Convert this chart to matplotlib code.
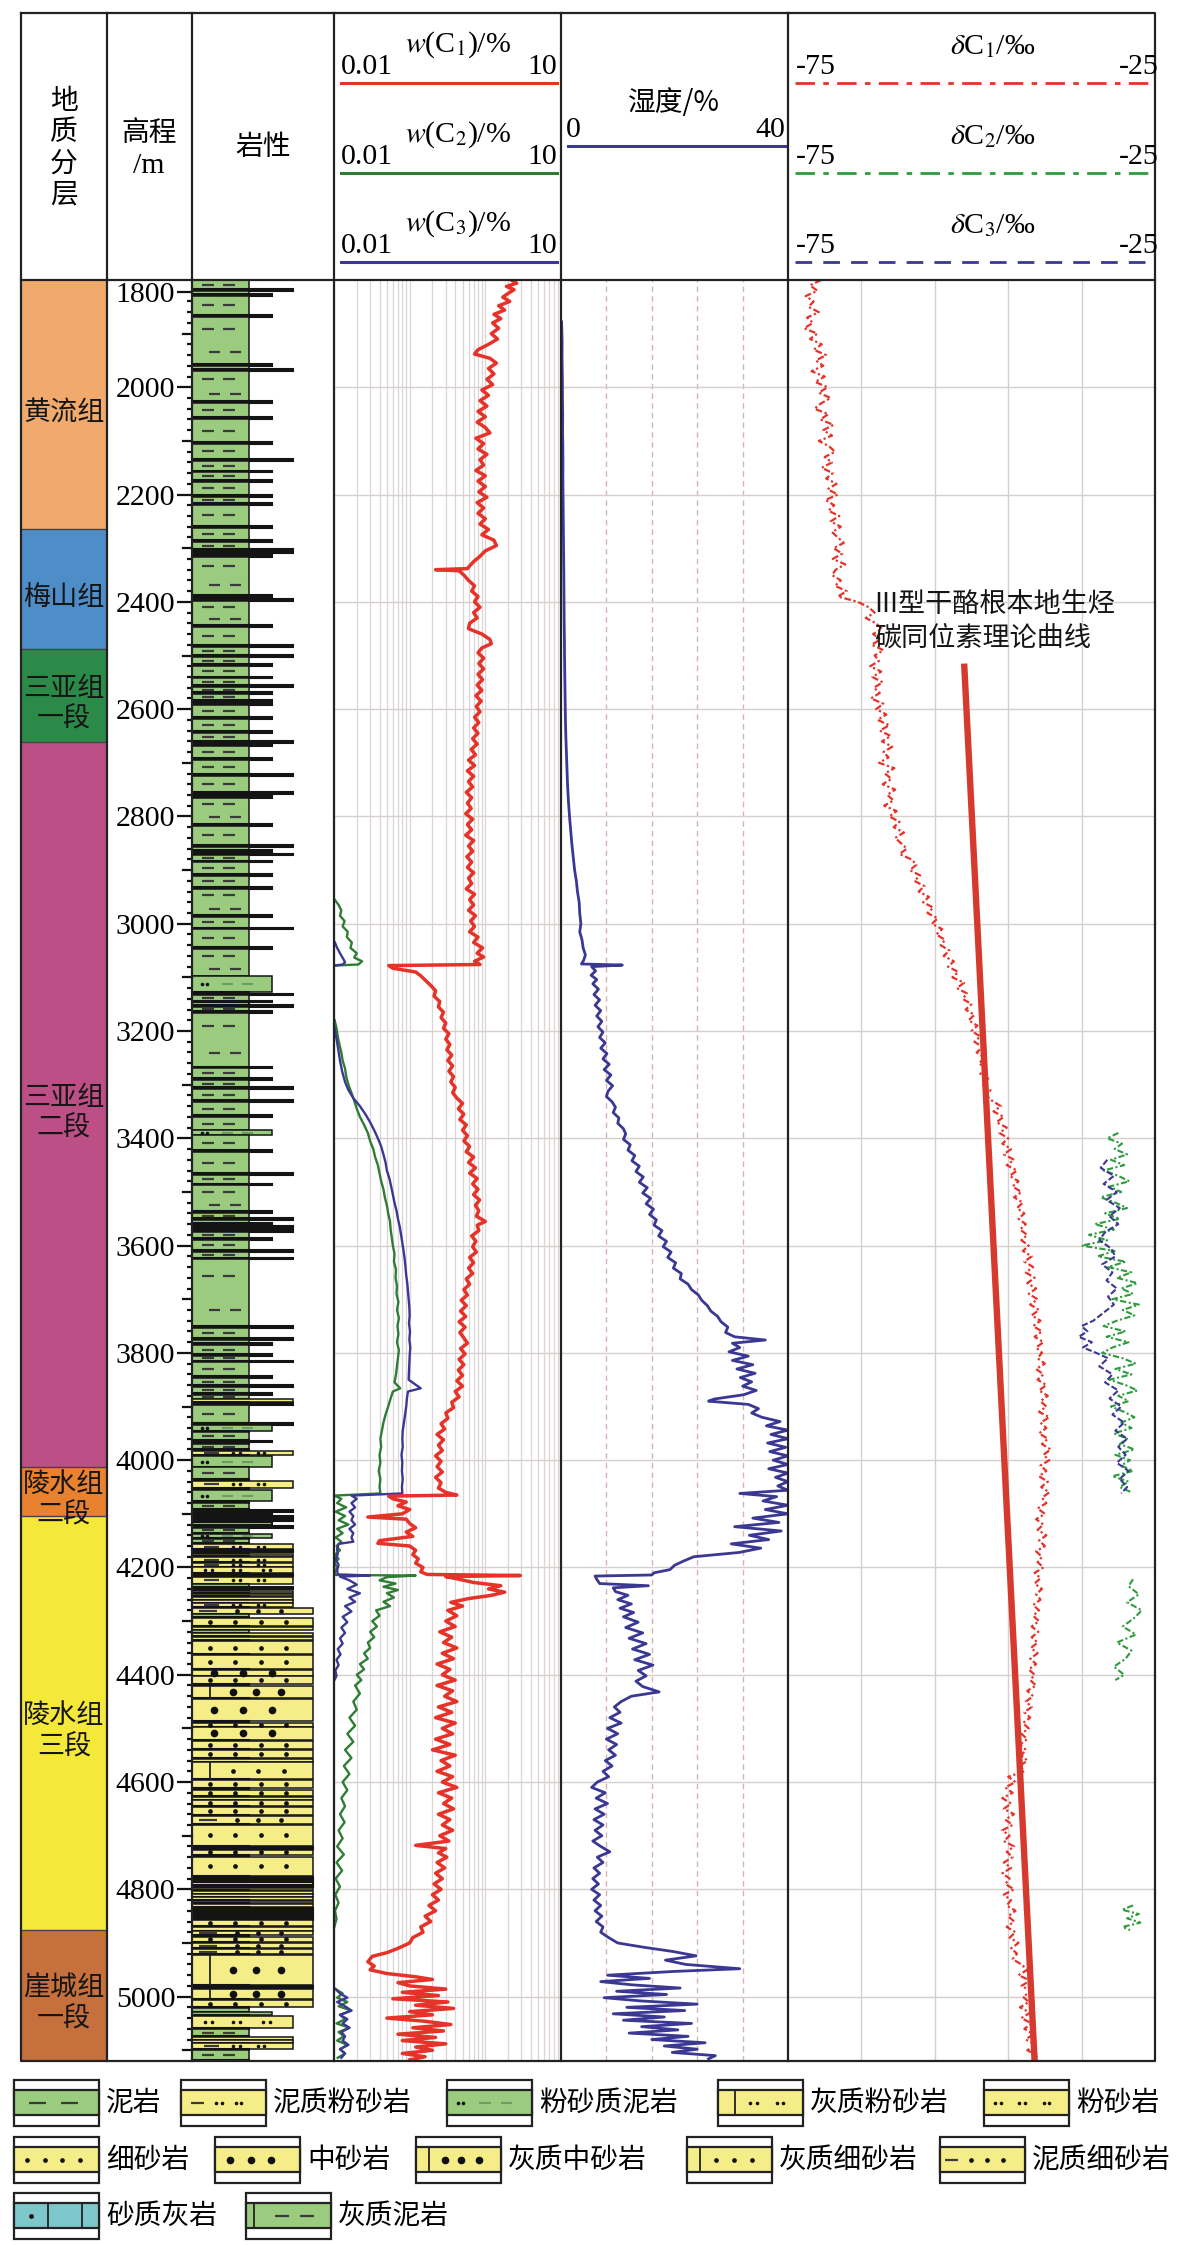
import matplotlib
matplotlib.use("Agg")
import matplotlib.pyplot as plt
import numpy as np
from matplotlib.patches import Rectangle

plt.rcParams['font.family'] = ['Liberation Serif', 'Noto Sans CJK SC', 'DejaVu Sans']
plt.rcParams['mathtext.fontset'] = 'stix'
CJK = ['Noto Sans CJK SC', 'DejaVu Sans']
SERIF = ['Liberation Serif', 'DejaVu Serif']

# ---------------- data ----------------
TOP, BOT = 1800, 5120

strata_names = ['黄流组', '梅山组', '三亚组\n一段', '三亚组\n二段', '陵水组\n二段', '陵水组\n三段', '崖城组\n一段']
strata_tops = [1800, 2265, 2487, 2661, 4012, 4104, 4875]
strata_bases = [2265, 2487, 2661, 4012, 4104, 4875, 5120]
strata_colors = ['#F0AA6C', '#4E8DC8', '#2C8A48', '#BB4F86', '#E8822E', '#F4E83A', '#C6703D']

depth_labels = list(range(1800, 5001, 200))

# thin beds in the mudstone section: (depth, lithology)
thin_beds = [(1819, 'asilt'), (1828, 'smud'), (1867, 'smud'), (1958, 'smud'), (1968, 'asilt'), (2028, 'smud'),
             (2058, 'smud'), (2104, 'smud'), (2135, 'asilt'), (2157, 'smud'), (2174, 'smud'), (2202, 'smud'),
             (2218, 'smud'), (2260, 'smud'), (2287, 'smud'), (2303, 'asilt'), (2307, 'asilt'), (2314, 'smud'),
             (2389, 'smud'), (2396, 'asilt'), (2445, 'smud'), (2482, 'asilt'), (2501, 'asilt'), (2518, 'smud'),
             (2541, 'smud'), (2557, 'asilt'), (2570, 'smud'), (2584, 'smud'), (2591, 'smud'), (2616, 'smud'),
             (2643, 'smud'), (2661, 'asilt'), (2667, 'smud'), (2693, 'smud'), (2723, 'asilt'), (2757, 'asilt'),
             (2763, 'smud'), (2816, 'smud'), (2855, 'asilt'), (2864, 'smud'), (2871, 'asilt'), (2884, 'smud'),
             (2909, 'smud'), (2933, 'smud'), (2986, 'smud'), (3009, 'asilt'), (3045, 'smud'), (3132, 'asilt'),
             (3145, 'smud'), (3153, 'asilt'), (3164, 'smud'), (3268, 'smud'), (3290, 'smud'), (3306, 'asilt'),
             (3331, 'asilt'), (3359, 'smud'), (3424, 'smud'), (3467, 'asilt'), (3486, 'smud'), (3538, 'smud'),
             (3551, 'asilt'), (3560, 'smud'), (3566, 'asilt'), (3573, 'asilt'), (3587, 'smud'), (3610, 'asilt'),
             (3624, 'asilt'), (3752, 'asilt'), (3774, 'asilt'), (3784, 'smud'), (3804, 'smud'), (3816, 'asilt'),
             (3845, 'smud'), (3862, 'asilt'), (3876, 'smud')]

# beds: (top, base, lithology)
beds = [(3097, 3127, 'smud'), (3385, 3394, 'smud'), (3886, 3892, 'asilt'), (3893, 3897, 'asilt'),
        (3898, 3930, 'mud'), (3931, 3934, 'asilt'), (3935, 3946, 'smud'), (3947, 3962, 'mud'),
        (3964, 3967, 'smud'), (3969, 3980, 'mud'), (3982, 3991, 'asilt'), (3993, 4012, 'smud'),
        (4013, 4035, 'mud'), (4038, 4052, 'asilt'), (4056, 4077, 'smud'), (4079, 4091, 'mud'),
        (4092, 4096, 'asilt'), (4098, 4102, 'smud'), (4104, 4108, 'asilt'), (4110, 4114, 'asilt'),
        (4116, 4120, 'smud'), (4122, 4126, 'asilt'), (4127, 4135, 'mud'), (4137, 4145, 'smud'),
        (4146, 4154, 'mud'), (4156, 4166, 'asilt'), (4168, 4172, 'asilt'), (4174, 4179, 'asilt'),
        (4181, 4190, 'asilt'), (4191, 4199, 'asilt'), (4200, 4211, 'silt'), (4213, 4216, 'asilt'),
        (4218, 4230, 'asilt'), (4231, 4236, 'mud'), (4237, 4241, 'asilt'), (4243, 4248, 'asilt'),
        (4249, 4254, 'asilt'), (4255, 4260, 'asilt'), (4261, 4266, 'asilt'), (4267, 4274, 'asilt'),
        (4276, 4286, 'afine'), (4287, 4292, 'mud'), (4294, 4310, 'fine'), (4311, 4316, 'fine'),
        (4317, 4322, 'mud'), (4323, 4328, 'fine'), (4330, 4336, 'fine'), (4338, 4361, 'fine'),
        (4363, 4390, 'fine'), (4391, 4402, 'med'), (4403, 4418, 'fine'), (4421, 4444, 'cmed'),
        (4445, 4487, 'med'), (4489, 4497, 'fine'), (4498, 4521, 'med'), (4523, 4538, 'fine'),
        (4540, 4556, 'fine'), (4557, 4562, 'afine'), (4563, 4595, 'cfine'), (4597, 4612, 'fine'),
        (4614, 4626, 'fine'), (4628, 4633, 'fine'), (4634, 4645, 'fine'), (4647, 4661, 'fine'),
        (4663, 4678, 'afine'), (4680, 4719, 'fine'), (4721, 4725, 'afine'), (4726, 4736, 'fine'),
        (4739, 4775, 'fine'), (4777, 4781, 'fine'), (4782, 4786, 'afine'), (4787, 4791, 'fine'),
        (4792, 4796, 'fine'), (4797, 4802, 'afine'), (4803, 4808, 'fine'), (4809, 4814, 'fine'),
        (4815, 4820, 'afine'), (4821, 4826, 'fine'), (4827, 4832, 'fine'), (4834, 4838, 'afine'),
        (4839, 4843, 'fine'), (4844, 4848, 'afine'), (4849, 4853, 'fine'), (4854, 4857, 'fine'),
        (4858, 4869, 'fine'), (4871, 4877, 'fine'), (4878, 4886, 'afine'), (4888, 4898, 'fine'),
        (4900, 4910, 'afine'), (4912, 4920, 'afine'), (4922, 4978, 'cmed'), (4980, 4983, 'fine'),
        (4985, 5004, 'cmed'), (5006, 5020, 'fine'), (5022, 5028, 'mud'), (5029, 5035, 'smud'),
        (5037, 5058, 'silt'), (5060, 5074, 'mud'), (5075, 5080, 'asilt'), (5081, 5086, 'asilt'),
        (5087, 5097, 'asilt'), (5099, 5118, 'mud')]

# w(C1) %, (depth m, value)
C1 = [(1800, 2.2), (1806, 2.6), (1812, 1.9), (1818, 2.4), (1825, 2.0), (1832, 1.7), (1840, 2.1), (1848, 1.5),
      (1856, 1.8), (1864, 1.3), (1872, 1.6), (1880, 1.25), (1890, 1.5), (1900, 1.2), (1910, 1.45), (1920, 1.1),
      (1930, 0.8), (1938, 0.72), (1946, 1.15), (1955, 1.4), (1965, 1.1), (1975, 1.3), (1985, 1.05), (1995, 1.25),
      (2005, 0.9), (2015, 1.1), (2025, 0.85), (2035, 1.05), (2045, 0.8), (2055, 1.0), (2065, 0.78), (2075, 1.0),
      (2085, 1.15), (2095, 0.75), (2105, 0.95), (2115, 0.8), (2125, 1.05), (2135, 0.85), (2145, 0.95), (2155, 0.75),
      (2165, 1.0), (2175, 0.8), (2185, 1.0), (2195, 0.82), (2205, 1.05), (2215, 0.78), (2225, 0.95), (2235, 0.8),
      (2245, 1.0), (2255, 0.85), (2265, 1.1), (2275, 0.9), (2285, 1.3), (2295, 1.4), (2305, 1.0), (2315, 0.85),
      (2325, 0.7), (2333, 0.62), (2338, 0.58), (2340, 0.22), (2342, 0.45), (2350, 0.52), (2360, 0.6), (2370, 0.72),
      (2380, 0.66), (2390, 0.8), (2400, 0.72), (2410, 0.85), (2420, 0.7), (2430, 0.78), (2440, 0.62), (2450, 0.6),
      (2460, 0.9), (2470, 1.15), (2478, 1.2), (2486, 0.9), (2495, 0.8), (2505, 0.95), (2515, 0.82), (2525, 0.95),
      (2535, 0.8), (2545, 0.92), (2555, 0.78), (2565, 0.9), (2575, 0.75), (2585, 0.88), (2595, 0.76), (2605, 0.85),
      (2615, 0.72), (2625, 0.82), (2635, 0.7), (2645, 0.8), (2655, 0.68), (2665, 0.78), (2675, 0.65), (2685, 0.74),
      (2695, 0.6), (2705, 0.72), (2715, 0.58), (2725, 0.7), (2735, 0.6), (2745, 0.68), (2755, 0.56), (2765, 0.66),
      (2775, 0.58), (2785, 0.65), (2795, 0.55), (2805, 0.68), (2815, 0.58), (2825, 0.66), (2835, 0.55), (2845, 0.7),
      (2855, 0.6), (2865, 0.68), (2875, 0.57), (2885, 0.66), (2895, 0.58), (2905, 0.7), (2915, 0.6), (2925, 0.66),
      (2935, 0.56), (2945, 0.72), (2955, 0.62), (2965, 0.7), (2975, 0.6), (2985, 0.74), (2995, 0.64), (3005, 0.72),
      (3015, 0.62), (3025, 0.8), (3035, 0.7), (3045, 0.92), (3055, 0.78), (3062, 0.95), (3070, 0.72), (3076, 0.85),
      (3078, 0.053), (3083, 0.06), (3090, 0.12), (3097, 0.14), (3105, 0.16), (3115, 0.19), (3125, 0.22), (3135, 0.21),
      (3145, 0.25), (3155, 0.24), (3165, 0.28), (3175, 0.26), (3185, 0.3), (3195, 0.28), (3205, 0.33), (3215, 0.3),
      (3225, 0.34), (3235, 0.31), (3245, 0.36), (3255, 0.32), (3265, 0.37), (3275, 0.33), (3285, 0.38), (3295, 0.35),
      (3305, 0.4), (3315, 0.37), (3325, 0.42), (3335, 0.5), (3345, 0.44), (3355, 0.52), (3365, 0.46), (3375, 0.56),
      (3385, 0.5), (3395, 0.58), (3405, 0.52), (3415, 0.62), (3425, 0.56), (3435, 0.7), (3445, 0.6), (3455, 0.74),
      (3465, 0.62), (3475, 0.78), (3485, 0.68), (3495, 0.8), (3505, 0.7), (3515, 0.84), (3525, 0.74), (3535, 0.82),
      (3545, 0.76), (3555, 1.0), (3562, 0.78), (3572, 0.82), (3582, 0.66), (3592, 0.75), (3602, 0.68), (3612, 0.76),
      (3622, 0.62), (3632, 0.7), (3642, 0.6), (3652, 0.68), (3662, 0.56), (3672, 0.62), (3682, 0.52), (3692, 0.58),
      (3702, 0.48), (3712, 0.56), (3722, 0.47), (3732, 0.55), (3742, 0.45), (3752, 0.54), (3762, 0.46), (3772, 0.52),
      (3782, 0.58), (3792, 0.47), (3802, 0.54), (3812, 0.45), (3822, 0.52), (3832, 0.44), (3842, 0.5), (3852, 0.42),
      (3862, 0.5), (3872, 0.4), (3882, 0.45), (3892, 0.36), (3902, 0.38), (3912, 0.3), (3922, 0.32), (3932, 0.26),
      (3942, 0.29), (3952, 0.23), (3962, 0.28), (3972, 0.24), (3982, 0.27), (3992, 0.22), (4002, 0.26), (4012, 0.23),
      (4022, 0.27), (4032, 0.22), (4042, 0.26), (4052, 0.24), (4060, 0.3), (4065, 0.42), (4067, 0.053), (4072, 0.06),
      (4078, 0.09), (4085, 0.07), (4092, 0.1), (4100, 0.08), (4106, 0.028), (4110, 0.09), (4118, 0.1), (4126, 0.12),
      (4134, 0.09), (4142, 0.11), (4150, 0.04), (4155, 0.038), (4160, 0.1), (4168, 0.12), (4176, 0.11), (4184, 0.13),
      (4192, 0.12), (4200, 0.15), (4208, 0.14), (4213, 0.17), (4215, 2.9), (4217, 0.3), (4222, 0.45), (4228, 0.7),
      (4234, 1.6), (4240, 1.1), (4246, 1.8), (4252, 1.2), (4258, 0.6), (4265, 0.35), (4272, 0.5), (4280, 0.32),
      (4290, 0.42), (4300, 0.3), (4310, 0.4), (4320, 0.25), (4330, 0.36), (4340, 0.28), (4350, 0.42), (4360, 0.27),
      (4370, 0.38), (4380, 0.23), (4390, 0.34), (4400, 0.27), (4410, 0.4), (4420, 0.23), (4430, 0.37), (4440, 0.29),
      (4450, 0.42), (4460, 0.24), (4470, 0.36), (4480, 0.22), (4490, 0.4), (4500, 0.27), (4510, 0.37), (4520, 0.22),
      (4530, 0.34), (4540, 0.2), (4550, 0.4), (4560, 0.26), (4570, 0.34), (4580, 0.23), (4590, 0.37), (4600, 0.27),
      (4610, 0.42), (4620, 0.24), (4630, 0.36), (4640, 0.28), (4650, 0.38), (4660, 0.24), (4670, 0.34), (4680, 0.27),
      (4690, 0.37), (4700, 0.25), (4710, 0.33), (4718, 0.12), (4724, 0.3), (4732, 0.24), (4740, 0.31), (4750, 0.23),
      (4760, 0.29), (4770, 0.22), (4780, 0.27), (4790, 0.21), (4800, 0.26), (4810, 0.2), (4820, 0.24), (4830, 0.18),
      (4840, 0.22), (4850, 0.16), (4860, 0.19), (4870, 0.14), (4880, 0.15), (4890, 0.11), (4900, 0.1), (4910, 0.07),
      (4918, 0.05), (4925, 0.032), (4935, 0.028), (4943, 0.034), (4950, 0.03), (4957, 0.05), (4963, 0.12), (4968, 0.2),
      (4974, 0.07), (4980, 0.1), (4986, 0.3), (4992, 0.08), (4998, 0.24), (5004, 0.06), (5010, 0.32), (5016, 0.12),
      (5022, 0.38), (5028, 0.1), (5034, 0.2), (5040, 0.05), (5046, 0.16), (5052, 0.35), (5058, 0.11), (5064, 0.28),
      (5070, 0.07), (5076, 0.22), (5082, 0.08), (5088, 0.3), (5094, 0.12), (5100, 0.2), (5106, 0.08), (5112, 0.16),
      (5118, 0.1)]

nan = np.nan
# w(C2) %
C2 = [(2955, 0.0102), (2965, 0.0115), (2975, 0.0125), (2985, 0.012), (2995, 0.0138), (3005, 0.013), (3015, 0.0152),
      (3025, 0.0148), (3035, 0.0172), (3045, 0.0165), (3055, 0.02), (3063, 0.0185), (3070, 0.0235), (3076, 0.021),
      (3078, 0.0101), (nan, nan),
      (3180, 0.0102), (3195, 0.0108), (3210, 0.0112), (3225, 0.0118), (3240, 0.0125), (3255, 0.013), (3270, 0.014),
      (3285, 0.0145), (3300, 0.0155), (3315, 0.017), (3330, 0.0185), (3345, 0.02), (3360, 0.022), (3375, 0.025),
      (3390, 0.028), (3405, 0.03), (3420, 0.033), (3435, 0.035), (3450, 0.038), (3465, 0.04), (3480, 0.042),
      (3495, 0.045), (3510, 0.047), (3525, 0.05), (3540, 0.052), (3555, 0.055), (3570, 0.056), (3585, 0.058),
      (3600, 0.06), (3615, 0.063), (3630, 0.062), (3645, 0.066), (3660, 0.065), (3675, 0.068), (3690, 0.067),
      (3705, 0.071), (3720, 0.068), (3735, 0.072), (3750, 0.069), (3765, 0.071), (3780, 0.068), (3795, 0.072),
      (3810, 0.07), (3825, 0.068), (3840, 0.066), (3855, 0.063), (3866, 0.075), (3872, 0.06), (3885, 0.056),
      (3900, 0.052), (3915, 0.048), (3930, 0.045), (3945, 0.043), (3960, 0.041), (3975, 0.042), (3990, 0.04),
      (4005, 0.041), (4020, 0.039), (4035, 0.041), (4050, 0.04), (4062, 0.041), (4066, 0.0101), (4072, 0.0125),
      (4080, 0.011), (4088, 0.0145), (4096, 0.0105), (4104, 0.014), (4112, 0.0115), (4120, 0.0155), (4128, 0.011),
      (4136, 0.013), (4144, 0.0105), (4152, 0.0125), (4160, 0.0108), (4168, 0.012), (4176, 0.0103), (4184, 0.0115),
      (4192, 0.0102), (4200, 0.011), (4208, 0.0103), (4214, 0.0105), (4215, 0.12), (4218, 0.05), (4224, 0.04),
      (4230, 0.065), (4236, 0.045), (4242, 0.07), (4248, 0.05), (4256, 0.062), (4264, 0.045), (4272, 0.055),
      (4280, 0.036), (4290, 0.04), (4300, 0.032), (4310, 0.037), (4320, 0.03), (4330, 0.034), (4340, 0.028),
      (4350, 0.03), (4360, 0.025), (4370, 0.028), (4380, 0.022), (4390, 0.025), (4400, 0.02), (4410, 0.023),
      (4420, 0.019), (4435, 0.022), (4450, 0.018), (4465, 0.02), (4480, 0.016), (4495, 0.019), (4510, 0.015),
      (4525, 0.018), (4540, 0.014), (4555, 0.017), (4570, 0.0135), (4585, 0.016), (4600, 0.013), (4615, 0.015),
      (4630, 0.0125), (4645, 0.014), (4660, 0.012), (4675, 0.0138), (4690, 0.0115), (4705, 0.013), (4720, 0.011),
      (4735, 0.0135), (4750, 0.0108), (4765, 0.0128), (4780, 0.0105), (4795, 0.012), (4810, 0.0104), (4825, 0.0115),
      (4840, 0.0103), (4855, 0.0108), (4870, 0.0101), (nan, nan),
      (4986, 0.0105), (4994, 0.013), (5002, 0.011), (5010, 0.015), (5018, 0.0115), (5026, 0.017), (5034, 0.012),
      (5042, 0.014), (5050, 0.0108), (5058, 0.016), (5066, 0.0115), (5074, 0.0135), (5082, 0.011), (5090, 0.015),
      (5098, 0.012), (5106, 0.014), (5114, 0.0112)]

# w(C3) %
C3 = [(3035, 0.0103), (3045, 0.011), (3055, 0.012), (3065, 0.0132), (3072, 0.014), (3076, 0.013), (3078, 0.0101),
      (nan, nan),
      (3195, 0.0102), (3215, 0.0108), (3235, 0.0114), (3255, 0.012), (3275, 0.0128), (3295, 0.014), (3310, 0.0155),
      (3325, 0.018), (3340, 0.022), (3355, 0.026), (3370, 0.03), (3385, 0.034), (3400, 0.038), (3415, 0.042),
      (3430, 0.045), (3445, 0.048), (3460, 0.05), (3475, 0.054), (3490, 0.057), (3505, 0.06), (3520, 0.063),
      (3535, 0.067), (3550, 0.07), (3565, 0.074), (3580, 0.077), (3595, 0.08), (3610, 0.083), (3625, 0.086),
      (3640, 0.088), (3655, 0.09), (3670, 0.093), (3685, 0.095), (3700, 0.097), (3715, 0.099), (3730, 0.1),
      (3745, 0.098), (3760, 0.101), (3775, 0.099), (3790, 0.102), (3805, 0.1), (3820, 0.099), (3835, 0.098),
      (3850, 0.097), (3866, 0.14), (3872, 0.095), (3885, 0.092), (3900, 0.09), (3915, 0.087), (3930, 0.084),
      (3945, 0.081), (3960, 0.08), (3975, 0.081), (3990, 0.078), (4005, 0.08), (4020, 0.079), (4035, 0.081),
      (4050, 0.079), (4062, 0.08), (4066, 0.017), (4072, 0.02), (4080, 0.017), (4088, 0.019), (4096, 0.016),
      (4104, 0.018), (4112, 0.017), (4120, 0.019), (4128, 0.016), (4136, 0.018), (4144, 0.017), (4152, 0.018),
      (4156, 0.0115), (4165, 0.011), (4175, 0.0112), (4185, 0.0105), (4195, 0.0115), (4205, 0.011), (4213, 0.0112),
      (4215, 0.03), (4217, 0.012), (4224, 0.016), (4232, 0.02), (4240, 0.015), (4248, 0.022), (4256, 0.016),
      (4264, 0.019), (4272, 0.014), (4282, 0.017), (4292, 0.013), (4302, 0.015), (4312, 0.0125), (4322, 0.014),
      (4332, 0.012), (4342, 0.013), (4352, 0.0112), (4362, 0.0122), (4372, 0.0108), (4382, 0.0115), (4392, 0.0104),
      (4402, 0.0108), (4410, 0.0101), (nan, nan),
      (4986, 0.0105), (4994, 0.012), (5002, 0.015), (5010, 0.011), (5018, 0.014), (5026, 0.017), (5034, 0.012),
      (5042, 0.015), (5050, 0.013), (5058, 0.016), (5066, 0.0125), (5074, 0.014), (5082, 0.013), (5090, 0.0155),
      (5098, 0.012), (5106, 0.014), (5114, 0.0125)]

# humidity %
HUM = [(1878, 0.1), (1895, 0.15), (1915, 0.2), (1940, 0.18), (1965, 0.22), (1990, 0.25), (2020, 0.26), (2050, 0.3),
       (2080, 0.28), (2110, 0.32), (2140, 0.34), (2170, 0.33), (2200, 0.36), (2230, 0.38), (2260, 0.42), (2290, 0.45),
       (2320, 0.47), (2350, 0.5), (2380, 0.52), (2410, 0.55), (2440, 0.56), (2470, 0.6), (2500, 0.62), (2530, 0.66),
       (2560, 0.7), (2590, 0.74), (2620, 0.78), (2650, 0.85), (2680, 0.95), (2710, 1.05), (2740, 1.15), (2770, 1.3),
       (2800, 1.5), (2825, 1.7), (2850, 1.9), (2875, 2.15), (2900, 2.4), (2920, 2.7), (2940, 2.9), (2960, 3.2),
       (2980, 3.3), (3000, 3.5), (3015, 3.3), (3030, 3.7), (3045, 3.9), (3058, 4.3), (3068, 4.0), (3075, 3.6),
       (3077, 10.8), (3080, 5.4), (3088, 6.1), (3096, 5.3), (3104, 6.3), (3112, 5.6), (3122, 6.6), (3132, 5.8),
       (3142, 6.8), (3152, 6.0), (3162, 7.0), (3172, 6.3), (3182, 7.2), (3192, 6.5), (3202, 7.4), (3212, 6.8),
       (3222, 7.8), (3232, 7.0), (3242, 8.1), (3252, 7.4), (3262, 8.5), (3272, 7.6), (3282, 8.8), (3292, 8.0),
       (3302, 9.1), (3312, 8.3), (3322, 8.0), (3332, 9.0), (3342, 9.6), (3352, 9.2), (3362, 10.2), (3372, 10.0),
       (3382, 11.0), (3392, 11.4), (3402, 11.0), (3412, 12.2), (3422, 11.8), (3432, 13.0), (3442, 12.5), (3452, 13.8),
       (3462, 13.2), (3472, 14.5), (3482, 13.8), (3492, 15.2), (3502, 14.4), (3512, 15.8), (3522, 15.0), (3532, 16.3),
       (3542, 15.6), (3552, 16.8), (3562, 16.4), (3572, 17.8), (3582, 17.2), (3592, 18.6), (3602, 18.0), (3612, 19.4),
       (3622, 18.8), (3632, 20.2), (3642, 19.8), (3652, 21.2), (3662, 21.0), (3672, 22.4), (3682, 23.0), (3692, 24.2),
       (3702, 24.8), (3712, 25.8), (3722, 26.4), (3732, 27.6), (3742, 28.2), (3752, 29.4), (3762, 29.0), (3770, 30.6),
       (3776, 36.0), (3782, 30.2), (3790, 31.5), (3798, 29.6), (3806, 33.0), (3814, 30.2), (3822, 33.8), (3830, 31.0),
       (3838, 34.2), (3846, 31.6), (3854, 33.6), (3862, 32.0), (3870, 34.4), (3878, 32.2), (3886, 27.0), (3890, 26.0),
       (3896, 33.0), (3904, 34.8), (3912, 33.6), (3920, 35.4), (3928, 38.6), (3936, 36.2), (3944, 40.0), (3952, 37.0),
       (3960, 40.0), (3968, 36.4), (3976, 39.6), (3984, 36.8), (3992, 40.0), (4000, 37.4), (4008, 40.0), (4016, 36.6),
       (4024, 40.0), (4032, 37.8), (4040, 40.0), (4048, 38.2), (4056, 40.0), (4062, 31.5), (4068, 38.0), (4076, 35.6),
       (4084, 40.0), (4092, 36.0), (4100, 40.0), (4108, 33.8), (4116, 38.4), (4124, 30.6), (4132, 38.8), (4140, 33.2),
       (4148, 36.6), (4156, 30.0), (4164, 35.2), (4172, 31.4), (4180, 23.4), (4188, 21.6), (4196, 20.0), (4204, 19.2),
       (4210, 16.4), (4214, 16.0), (4216, 6.0), (4222, 6.3), (4230, 6.8), (4234, 15.4), (4238, 9.2), (4245, 9.6),
       (4252, 11.8), (4260, 10.0), (4268, 12.4), (4276, 10.4), (4284, 12.8), (4292, 11.0), (4302, 13.6), (4312, 11.4),
       (4322, 14.4), (4332, 12.0), (4342, 15.0), (4352, 12.6), (4362, 15.6), (4372, 13.0), (4382, 16.2), (4392, 13.6),
       (4402, 15.0), (4412, 13.2), (4422, 14.4), (4432, 17.3), (4440, 12.4), (4450, 10.6), (4460, 9.4), (4470, 10.4),
       (4480, 8.6), (4490, 10.6), (4500, 8.2), (4510, 10.0), (4520, 8.0), (4530, 9.8), (4540, 8.4), (4550, 9.6),
       (4560, 7.8), (4570, 9.0), (4580, 7.4), (4590, 8.4), (4600, 6.4), (4610, 5.4), (4620, 7.8), (4630, 6.2),
       (4640, 8.2), (4650, 6.0), (4660, 7.6), (4670, 5.8), (4680, 7.4), (4690, 6.0), (4700, 7.2), (4710, 5.6),
       (4720, 7.0), (4730, 8.6), (4740, 6.4), (4750, 7.4), (4760, 5.8), (4770, 6.8), (4780, 5.6), (4790, 6.6),
       (4800, 5.4), (4810, 6.8), (4820, 5.8), (4830, 7.0), (4840, 6.0), (4850, 7.2), (4860, 6.2), (4870, 7.4),
       (4880, 7.0), (4890, 8.4), (4900, 10.0), (4908, 14.6), (4916, 19.8), (4924, 23.8), (4932, 18.4), (4940, 22.0),
       (4948, 31.5), (4953, 20.0), (4960, 8.2), (4966, 15.6), (4972, 7.0), (4978, 12.5), (4984, 21.0), (4990, 9.8),
       (4996, 18.6), (5002, 7.6), (5008, 14.0), (5014, 24.0), (5020, 11.6), (5026, 21.8), (5032, 9.2), (5038, 18.2),
       (5044, 11.0), (5050, 23.0), (5056, 14.2), (5062, 20.6), (5068, 12.0), (5074, 22.4), (5080, 16.0), (5086, 25.4),
       (5092, 18.2), (5098, 24.0), (5104, 19.6), (5110, 27.2), (5116, 26.0)]

# delta C1 permil, every 10 m from 1800
dC1_start = 1800
dC1 = [-70.5, -72.0, -71.0, -72.6, -71.5, -72.2, -70.8, -72.4, -71.6, -72.8, -71.0, -72.0, -70.4, -71.5, -69.8,
       -71.2, -70.2, -71.8, -70.0, -71.3, -69.6, -70.8, -69.2, -70.5, -71.4, -69.5, -70.6, -68.8, -70.2, -69.0,
       -70.8, -69.4, -68.6, -70.0, -69.0, -70.4, -68.9, -69.8, -68.4, -69.6, -68.2, -69.9, -68.7, -69.5, -68.0,
       -69.2, -67.8, -69.0, -68.2, -67.4, -68.8, -67.6, -68.9, -67.2, -68.5, -69.0, -67.8, -68.6, -67.0, -68.2,
       -65.5, -64.0, -63.2, -64.4, -63.0, -62.2, -63.4, -62.4, -63.6, -62.0, -63.2, -62.6, -63.8, -62.3, -63.5,
       -62.1, -63.3, -62.5, -63.7, -62.0, -63.0, -61.6, -62.8, -61.2, -62.5, -61.0, -62.2, -60.8, -62.0, -61.3,
       -62.6, -60.5, -61.8, -60.9, -62.1, -60.4, -61.5, -60.6, -61.9, -60.2, -61.2, -59.8, -60.6, -59.2, -60.4,
       -59.6, -58.8, -59.8, -58.2, -57.5, -58.4, -57.0, -57.8, -56.4, -57.2, -55.8, -56.6, -55.2, -56.0, -54.6,
       -55.4, -54.0, -54.8, -53.6, -54.2, -53.0, -53.8, -52.4, -53.2, -51.8, -52.6, -51.0, -52.0, -50.6, -51.2,
       -50.0, -50.8, -49.6, -50.4, -49.2, -50.0, -48.8, -49.6, -48.5, -49.3, -48.2, -49.0, -48.0, -48.8, -47.6,
       -48.4, -47.4, -48.0, -47.2, -46.0, -47.0, -45.6, -46.6, -45.2, -46.2, -45.0, -45.8, -44.6, -45.6, -44.2,
       -45.2, -43.8, -44.8, -43.6, -44.4, -43.2, -44.2, -43.0, -43.8, -42.8, -43.6, -42.6, -43.4, -42.4, -43.2,
       -42.2, -43.0, -41.8, -42.8, -41.6, -42.6, -41.4, -42.4, -41.2, -42.2, -41.0, -42.0, -40.8, -41.8, -40.6,
       -41.6, -40.4, -41.4, -40.2, -41.2, -40.4, -41.0, -40.0, -41.2, -40.2, -41.0, -39.8, -40.8, -39.6, -40.6,
       -39.8, -40.8, -39.4, -40.6, -39.8, -40.8, -39.6, -40.4, -39.2, -40.2, -39.4, -40.6, -39.8, -40.8, -39.6,
       -40.5, -39.4, -40.4, -39.8, -41.0, -40.0, -41.2, -40.2, -41.0, -39.8, -40.8, -40.0, -41.2, -40.4, -41.0,
       -40.2, -41.4, -40.6, -41.4, -40.4, -41.2, -40.6, -41.6, -40.8, -41.6, -40.8, -41.8, -40.9, -41.8, -41.0,
       -41.9, -41.0, -42.0, -41.2, -42.2, -41.4, -42.0, -41.2, -42.4, -41.6, -42.6, -41.8, -42.8, -42.0, -43.0,
       -42.2, -43.2, -42.4, -43.4, -42.6, -43.2, -42.4, -43.4, -42.8, -45.0, -44.0, -45.4, -44.4, -45.8, -44.6,
       -45.6, -44.2, -45.4, -44.4, -45.8, -44.8, -45.6, -44.2, -45.2, -44.4, -45.6, -44.6, -45.8, -44.8, -45.4,
       -44.2, -45.6, -44.6, -45.2, -44.0, -45.0, -44.2, -45.2, -44.0, -44.8, -43.6, -44.6, -43.8, -44.4, -43.2,
       -42.4, -43.6, -42.0, -43.2, -41.8, -43.0, -42.2, -43.4, -42.0, -43.2, -41.8, -42.8, -41.6, -42.6, -41.2,
       -42.4, -41.0, -42.0]

# delta C2 / delta C3 permil
dC2 = [(3390, -30.0), (3400, -31.5), (3410, -29.5), (3420, -30.5), (3430, -28.8), (3440, -31.0), (3450, -29.2),
       (3460, -32.0), (3470, -30.0), (3480, -28.5), (3490, -31.2), (3500, -29.6), (3510, -32.4), (3520, -30.4),
       (3530, -28.8), (3540, -31.8), (3550, -29.8), (3560, -33.2), (3570, -30.6), (3580, -34.0), (3590, -31.5),
       (3600, -35.0), (3610, -30.5), (3620, -32.8), (3630, -29.0), (3640, -31.4), (3650, -28.2), (3660, -30.2),
       (3670, -27.4), (3680, -29.6), (3690, -28.0), (3700, -30.8), (3710, -27.2), (3720, -29.4), (3730, -27.8),
       (3740, -30.2), (3750, -32.0), (3760, -29.0), (3770, -31.6), (3780, -28.6), (3790, -30.8), (3800, -32.2),
       (3810, -29.4), (3820, -27.6), (3830, -30.4), (3840, -28.2), (3850, -31.2), (3860, -29.0), (3870, -27.4),
       (3880, -30.0), (3890, -28.6), (3900, -31.0), (3910, -29.2), (3920, -27.8), (3930, -29.6), (3940, -28.2),
       (3950, -30.6), (3960, -28.8), (3970, -29.8), (3980, -27.8), (3990, -30.4), (4000, -28.4), (4010, -29.6),
       (4020, -28.0), (4030, -30.8), (4040, -28.6), (4050, -29.8), (4060, -28.2), (nan, nan),
       (4222, -28.0), (4235, -28.6), (4250, -27.2), (4265, -28.8), (4280, -26.8), (4295, -27.9), (4310, -29.4),
       (4325, -27.6), (4340, -30.2), (4355, -28.2), (4370, -29.0), (4385, -30.6), (4400, -29.2), (4410, -30.4),
       (nan, nan),
       (4830, -28.0), (4838, -29.5), (4846, -27.2), (4854, -28.8), (4862, -27.0), (4870, -29.4), (4876, -28.4)]

dC3 = [(3440, -31.5), (3455, -32.4), (3470, -30.6), (3485, -32.0), (3500, -30.2), (3515, -31.6), (3530, -29.8),
       (3545, -31.2), (3560, -30.0), (3575, -31.8), (3590, -32.6), (3605, -31.0), (3620, -30.4), (3635, -32.2),
       (3650, -30.8), (3665, -31.6), (3680, -30.2), (3695, -31.4), (3710, -30.6), (3725, -32.0), (3740, -33.4),
       (3750, -35.0), (3760, -34.2), (3770, -35.4), (3780, -33.6), (3790, -34.8), (3800, -33.0), (3810, -31.4),
       (3825, -32.6), (3840, -30.8), (3855, -31.8), (3870, -30.0), (3885, -31.2), (3900, -29.6), (3915, -30.8),
       (3930, -29.2), (3945, -30.4), (3960, -28.8), (3975, -30.0), (3990, -29.0), (4005, -30.2), (4020, -28.6),
       (4035, -29.8), (4050, -28.8), (4062, -29.6)]

# type III kerogen theoretical curve: (depth, delta)
theory_depth = [2515, 5120]
theory_delta = [-51.0, -41.4]

legend_rows = [['mud', 'asilt', 'smud', 'csilt', 'silt'],
               ['fine', 'med', 'cmed', 'cfine', 'afine'],
               ['slime', 'cmud']]
legend_names = {'mud': '泥岩', 'asilt': '泥质粉砂岩', 'smud': '粉砂质泥岩', 'csilt': '灰质粉砂岩', 'silt': '粉砂岩',
                'fine': '细砂岩', 'med': '中砂岩', 'cmed': '灰质中砂岩', 'cfine': '灰质细砂岩', 'afine': '泥质细砂岩',
                'slime': '砂质灰岩', 'cmud': '灰质泥岩'}

# ---------------- styles ----------------
GREEN_L, YELLOW_L, CYAN_L = '#9ACB7F', '#F5ED88', '#7EC7CB'
LITHO_C = {'mud': GREEN_L, 'smud': GREEN_L, 'cmud': GREEN_L, 'slime': CYAN_L}
LITHO_W = {'mud': 0.40, 'cmud': 0.40, 'smud': 0.56, 'asilt': 0.71, 'silt': 0.71, 'csilt': 0.71, 'slime': 0.71}
PATTERNS = {
    'mud': {'dash': [(0.18, 0.38), (0.55, 0.75)]},
    'smud': {'dot': [0.13, 0.19], 'ms': 2.6, 'gdash': [(0.38, 0.52), (0.63, 0.77)]},
    'asilt': {'dash': [(0.12, 0.27)], 'dot': [0.41, 0.48, 0.65, 0.71], 'ms': 2.6},
    'csilt': {'vline': [0.2], 'dot': [0.38, 0.46, 0.69, 0.77], 'ms': 2.6},
    'silt': {'dot': [0.13, 0.2, 0.41, 0.48, 0.7, 0.77], 'ms': 2.6},
    'fine': {'dot': [0.15, 0.36, 0.57, 0.78], 'ms': 3.4},
    'med': {'dot': [0.18, 0.42, 0.66], 'ms': 5.5},
    'cmed': {'vline': [0.15], 'dot': [0.34, 0.53, 0.74], 'ms': 5.5},
    'cfine': {'vline': [0.15], 'dot': [0.34, 0.55, 0.76], 'ms': 3.4},
    'afine': {'dash': [(0.06, 0.21)], 'dot': [0.37, 0.55, 0.74], 'ms': 3.4},
    'slime': {'vline': [0.4, 0.8], 'dot': [0.2], 'ms': 3.4},
    'cmud': {'vline': [0.09], 'dash': [(0.34, 0.5), (0.64, 0.8)]},
}
RED, GREEN_D, NAVY = '#E5332A', '#2F7D35', '#3A3892'
D_GREEN = '#2E9B3F'
GRID = '#D6CFCC'

W, H = 1181, 2245
COLS = [21, 107, 192, 334, 561, 788, 1155]
Y0, Y1, Y2 = 13, 280, 2061

fig = plt.figure(figsize=(W / 100, H / 100), dpi=100)


def px_axes(x0, y0, x1, y1):
    return fig.add_axes([x0 / W, 1 - y1 / H, (x1 - x0) / W, (y1 - y0) / H])


def draw_pattern(ax, code, top, base, width, shift=0.0):
    spec = PATTERNS[code]
    mid = (top + base) / 2
    for a, b in spec.get('dash', []):
        ax.plot([(a + shift) * width, (b + shift) * width], [mid, mid], color='#3a3a3a', lw=1.6,
                solid_capstyle='butt')
    for a, b in spec.get('gdash', []):
        ax.plot([a * width, b * width], [mid, mid], color='#6E9A66', lw=1.5, solid_capstyle='butt')
    xs = np.array(spec.get('dot', []))
    if len(xs):
        ax.plot(xs * width, [mid] * len(xs), 'o', ms=spec['ms'], color='#111111', mec='none')
    for v in spec.get('vline', []):
        ax.plot([v * width, v * width], [top, base], color='#222222', lw=1.3)


tracks = []
for i in range(6):
    a = px_axes(COLS[i], Y1, COLS[i + 1], Y2)
    a.set_ylim(BOT, TOP)
    for s in a.spines.values():
        s.set_visible(False)
    tracks.append(a)
ax_s, ax_dep, ax_l, ax_w, ax_h, ax_d = tracks

# strata
for name, t, b, c in zip(strata_names, strata_tops, strata_bases, strata_colors):
    ax_s.axhspan(t, b, color=c, lw=0)
    ax_s.axhline(b, color='#444444', lw=1.0)
    ax_s.text(0.5, (t + b) / 2 + 15, name, ha='center', va='center', fontsize=19.5, family=CJK,
              linespacing=1.15, color='#151515')
ax_s.set_xlim(0, 1)
ax_s.set_xticks([])
ax_s.set_yticks([])
ax_dep.axis('off')

# lithology column
all_beds = [(d - 1.7, d + 1.7, c) for d, c in thin_beds] + beds
all_beds.sort()
column = []
prev = TOP
for t, b, c in all_beds:
    if t - prev > 0.8:
        column.append((prev, t, 'mud'))
    column.append((t, b, c))
    prev = max(prev, b)
if BOT - prev > 0.8:
    column.append((prev, BOT, 'mud'))

for t, b, c in column:
    w = LITHO_W.get(c, 0.85)
    thick = b - t
    ax_l.add_patch(Rectangle((0, t), w, thick, fc=LITHO_C.get(c, YELLOW_L), ec='#141414',
                             lw=1.5 if thick < 5 else 1.1))
    if thick >= 7:
        if c == 'mud' and thick > 45:
            draw_pattern(ax_l, c, t, t + thick / 2, w)
            draw_pattern(ax_l, c, t + thick / 2, b, w, shift=0.12)
        else:
            draw_pattern(ax_l, c, t, b, w)
ax_l.set_xlim(0, 1)
ax_l.set_ylim(BOT, TOP)
ax_l.set_xticks([])
tick_pos = [max(d, TOP + 22) for d in depth_labels]
ax_l.set_yticks(tick_pos)
ax_l.set_yticklabels([str(d) for d in depth_labels], fontsize=21.5, family=SERIF)
ax_l.set_yticks([d for d in range(1840, BOT, 20) if d % 100], minor=True)
ax_l.tick_params(axis='y', which='major', length=11, width=1.6, pad=1, color='#111111')
ax_l.tick_params(axis='y', which='minor', length=3.8, width=1.6, color='#111111')
for d in range(1900, BOT, 200):
    ax_l.plot([-0.065, 0], [d, d], transform=ax_l.get_yaxis_transform(), clip_on=False, color='#111111', lw=1.6)

grid_depths = list(range(2000, 5001, 200))
for a in (ax_w, ax_h, ax_d):
    a.set_yticks(grid_depths)
    a.grid(True, axis='y', color=GRID, lw=1.0)
    a.tick_params(which='both', length=0, labelleft=False, labelbottom=False)
    a.set_axisbelow(True)

# w(C) track
ax_w.set_xscale('log')
ax_w.set_xlim(0.01, 10)
ax_w.grid(True, which='both', axis='x', color='#DCD5D3', lw=0.9)
c1_d, c1_v = np.array(C1).T
c2_d, c2_v = np.array(C2).T
c3_d, c3_v = np.array(C3).T
ax_w.plot(c2_v, c2_d, color=GREEN_D, lw=1.7)
ax_w.plot(c3_v, c3_d, color=NAVY, lw=1.7)
ax_w.plot(c1_v, c1_d, color=RED, lw=2.5)
ax_w.set_ylim(BOT, TOP)

# humidity track
ax_h.set_xlim(0, 40)
ax_h.set_xticks([8, 16, 24, 32])
ax_h.grid(True, axis='x', color='#D7B3B3', lw=1.0, ls=(0, (4, 3)))
h_d, h_v = np.array(HUM).T
ax_h.plot(h_v, h_d, color=NAVY, lw=2.0)
ax_h.set_ylim(BOT, TOP)

# delta track
ax_d.set_xlim(-75, -25)
ax_d.set_xticks([-65, -55, -45, -35])
ax_d.grid(True, axis='x', color=GRID, lw=1.0)
d1_d = dC1_start + 10 * np.arange(len(dC1))
ax_d.plot(dC1, d1_d, color=RED, lw=1.6, ls=(0, (3, 1.2, 1, 1.2)))
d2_d, d2_v = np.array(dC2).T
d3_d, d3_v = np.array(dC3).T
ax_d.plot(d2_v, d2_d, color=D_GREEN, lw=1.5, ls=(0, (3, 1.2, 1, 1.2)))
ax_d.plot(d3_v, d3_d, color=NAVY, lw=1.5, ls=(0, (3, 1.2)))
ax_d.plot(theory_delta, theory_depth, color='#D63A2E', lw=4.6, solid_capstyle='butt')
ax_d.text(-63.2, 2436, 'III型干酪根本地生烃\n碳同位素理论曲线', ha='left', va='center', fontsize=19.5,
          family=CJK, linespacing=1.3, color='#151515')
ax_d.set_ylim(BOT, TOP)

# legend swatches
row_tops = [2080, 2137, 2193]
row_x = [[14, 181, 447, 718, 984], [14, 215, 416, 687, 940], [14, 246]]
for codes, xs, yt in zip(legend_rows, row_x, row_tops):
    for code, x0 in zip(codes, xs):
        sw = px_axes(x0, yt, x0 + 85, yt + 46)
        sw.set_xlim(0, 1)
        sw.set_ylim(1, 0)
        sw.axis('off')
        sw.add_patch(Rectangle((0, 0), 1, 1, fc='white', ec='#222222', lw=1.6, clip_on=False))
        sw.add_patch(Rectangle((0, 0.22), 1, 0.54, fc=LITHO_C.get(code, YELLOW_L), ec='#222222', lw=1.6,
                               clip_on=False))
        draw_pattern(sw, code, 0.22, 0.76, 1.0)

# overlay: frame, header, legend labels
ov = fig.add_axes([0, 0, 1, 1])
ov.set_xlim(0, W)
ov.set_ylim(H, 0)
ov.axis('off')
ov.patch.set_alpha(0)
frame = dict(color='#222222', lw=1.6)
ov.plot([COLS[0], COLS[-1], COLS[-1], COLS[0], COLS[0]], [Y0, Y0, Y2, Y2, Y0], **frame)
for x in COLS[1:-1]:
    ov.plot([x, x], [Y0, Y2], **frame)
ov.plot([COLS[0], COLS[-1]], [Y1, Y1], **frame)

ov.text(64, 148, '地\n质\n分\n层', ha='center', va='center', fontsize=20, family=CJK, linespacing=1.05)
ov.text(149, 133, '高程', ha='center', va='center', fontsize=20, family=CJK)
ov.text(149, 166, '/m', ha='center', va='center', fontsize=21.5, family=SERIF)
ov.text(263, 147, '岩性', ha='center', va='center', fontsize=20, family=CJK)

w_titles = [r'$w$(C$_1$)/%', r'$w$(C$_2$)/%', r'$w$(C$_3$)/%']
w_colors = [RED, GREEN_D, NAVY]
d_titles = [r'$\delta$C$_1$/‰', r'$\delta$C$_2$/‰', r'$\delta$C$_3$/‰']
d_colors = [RED, D_GREEN, NAVY]
d_styles = [(0, (7, 3, 2, 3)), (0, (7, 3, 2, 3)), (0, (6, 4))]
for i in range(3):
    yl = 83 + 89.5 * i
    ov.plot([341, 557], [yl, yl], color=w_colors[i], lw=2.2)
    ov.text(341, yl - 9, '0.01', ha='left', va='baseline', fontsize=21.5, family=SERIF)
    ov.text(557, yl - 9, '10', ha='right', va='baseline', fontsize=21.5, family=SERIF)
    ov.text(458, yl - 38, w_titles[i], ha='center', va='center', fontsize=21.5, family=SERIF)
    ov.plot([795, 1152], [yl, yl], color=d_colors[i], lw=2.0, ls=d_styles[i])
    ov.text(796, yl - 9, '-75', ha='left', va='baseline', fontsize=21.5, family=SERIF)
    ov.text(1159, yl - 9, '-25', ha='right', va='baseline', fontsize=21.5, family=SERIF)
    ov.text(993, yl - 36, d_titles[i], ha='center', va='center', fontsize=21.5, family=SERIF)

ov.text(674, 103, '湿度/%', ha='center', va='center', fontsize=20, family=CJK)
ov.plot([568, 785], [146, 146], color=NAVY, lw=2.2)
ov.text(566, 137, '0', ha='left', va='baseline', fontsize=21.5, family=SERIF)
ov.text(785, 137, '40', ha='right', va='baseline', fontsize=21.5, family=SERIF)

for codes, xs, yt in zip(legend_rows, row_x, row_tops):
    for code, x0 in zip(codes, xs):
        ov.text(x0 + 92, yt + 23, legend_names[code], ha='left', va='center', fontsize=20, family=CJK)

fig.savefig('out.png', dpi=100)
